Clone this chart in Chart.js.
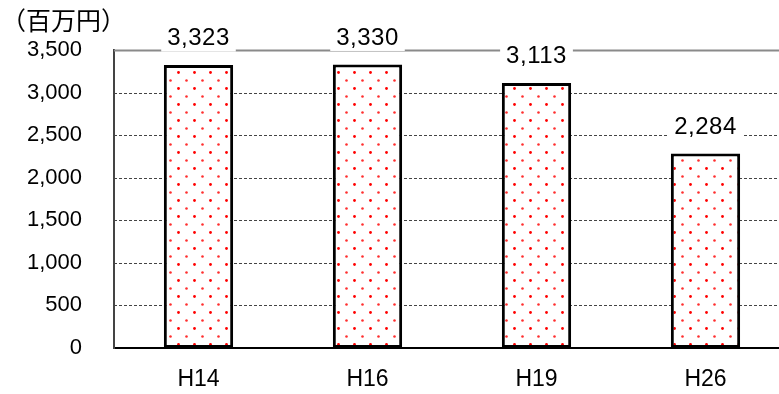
<!DOCTYPE html>
<html>
<head>
<meta charset="utf-8">
<script src="https://cdn.jsdelivr.net/npm/chart.js@4/dist/chart.umd.min.js"></script>
<style>
  html, body { margin: 0; padding: 0; background: #fff; overflow: hidden; }
  #wrap { width: 779px; height: 394px; overflow: hidden; }
</style>
</head>
<body>
<div id="wrap"><canvas id="c" width="790" height="394"></canvas></div>
<script>
// Survey years and amounts (unit: million yen)
const categories = ['H14', 'H16', 'H19', 'H26'];
const values = [3323, 3330, 3113, 2284];
const yTickValues = [0, 500, 1000, 1500, 2000, 2500, 3000, 3500];
const unitLabel = '（百万円）';

const FONT = "'Liberation Sans', Arial, sans-serif";

// Red dotted fill for the bars
function dotPattern() {
  const t = document.createElement('canvas');
  t.width = 16; t.height = 16;
  const g = t.getContext('2d');
  g.fillStyle = '#fff';
  g.fillRect(0, 0, 16, 16);
  g.fillStyle = 'rgba(255,0,0,1)';
  g.beginPath(); g.arc(2.5, 8.5, 1.4, 0, Math.PI * 2); g.fill();
  g.fillStyle = 'rgba(255,10,10,0.85)';
  g.beginPath(); g.arc(10.5, 0.5, 1.3, 0, Math.PI * 2); g.fill();
  g.beginPath(); g.arc(10.5, 16.5, 1.3, 0, Math.PI * 2); g.fill();
  return document.getElementById('c').getContext('2d').createPattern(t, 'repeat');
}

// Horizontal grid: solid top line, dashed for the rest
const gridPlugin = {
  id: 'gridLines',
  beforeDatasetsDraw(chart) {
    const { ctx, chartArea } = chart;
    const y = chart.scales.y;
    ctx.save();
    yTickValues.forEach(v => {
      if (v === 0) return;
      const py = Math.round(y.getPixelForValue(v)) + 0.5;
      ctx.beginPath();
      if (v === yTickValues[yTickValues.length - 1]) {
        ctx.setLineDash([]);
        ctx.strokeStyle = '#8a8a8a';
        ctx.lineWidth = 2;
      } else {
        ctx.setLineDash([3, 2]);
        ctx.strokeStyle = '#444';
        ctx.lineWidth = 1;
      }
      ctx.moveTo(chartArea.left, py);
      ctx.lineTo(chartArea.right, py);
      ctx.stroke();
    });
    ctx.restore();
  }
};

// Value labels above each bar, on a white box
const valueLabelPlugin = {
  id: 'valueLabels',
  afterDatasetsDraw(chart) {
    const { ctx } = chart;
    const meta = chart.getDatasetMeta(0);
    ctx.save();
    ctx.font = '24px ' + FONT;
    ctx.letterSpacing = '0.5px';
    ctx.textAlign = 'center';
    ctx.textBaseline = 'middle';
    meta.data.forEach((el, i) => {
      const txt = values[i].toLocaleString('en-US');
      const w = ctx.measureText(txt).width;
      const cy = el.y - 27.5;
      ctx.fillStyle = '#fff';
      ctx.fillRect(el.x - w / 2 - 6, cy - 14, w + 12, 28);
      ctx.fillStyle = '#000';
      ctx.fillText(txt, el.x, cy + 1);
    });
    ctx.restore();
  }
};

// Unit caption in the top-left corner
const unitPlugin = {
  id: 'unitCaption',
  afterDraw(chart) {
    const { ctx } = chart;
    ctx.save();
    ctx.font = "25px 'Noto Sans CJK JP', sans-serif";
    ctx.fillStyle = '#000';
    ctx.textAlign = 'left';
    ctx.textBaseline = 'middle';
    ctx.fillText(unitLabel, 1, 20);
    ctx.restore();
  }
};

new Chart(document.getElementById('c'), {
  type: 'bar',
  data: {
    labels: categories,
    datasets: [{
      data: values,
      backgroundColor: dotPattern(),
      borderColor: '#000',
      borderWidth: 3,
      borderSkipped: false,
      barPercentage: 0.41,
      categoryPercentage: 1.0
    }]
  },
  options: {
    responsive: false,
    animation: false,
    layout: { padding: { top: 50, left: 0, right: 0, bottom: 0 } },
    plugins: { legend: { display: false }, tooltip: { enabled: false } },
    scales: {
      x: {
        grid: { display: false, drawTicks: false },
        border: { display: true, color: '#000', width: 2 },
        ticks: { font: { family: FONT, size: 23 }, color: '#000', padding: 18 },
        afterFit(scale) { scale.height = 46; }
      },
      y: {
        min: 0,
        max: 3500,
        afterBuildTicks(scale) { scale.ticks = yTickValues.map(v => ({ value: v })); },
        grid: { display: false, drawTicks: false },
        border: { display: true, color: '#444', width: 2 },
        ticks: {
          font: { family: FONT, size: 22 },
          color: '#000',
          padding: 32,
          callback: v => Number(v).toLocaleString('en-US')
        },
        afterFit(scale) { scale.width = 114; }
      }
    }
  },
  plugins: [gridPlugin, valueLabelPlugin, unitPlugin]
});
</script>
</body>
</html>
